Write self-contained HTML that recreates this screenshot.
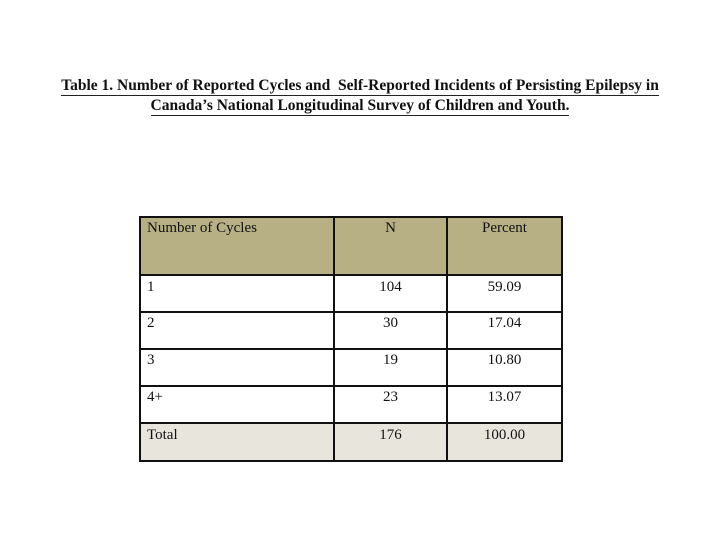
<!DOCTYPE html>
<html><head><style>
body{margin:0;width:720px;height:540px;background:#fff;position:relative;font-family:"Liberation Serif",serif;color:#111;overflow:hidden}
.t{position:absolute;left:0;width:720px;text-align:center;font-weight:bold;font-size:15.5px;white-space:nowrap}
.t span{display:inline-block;border-bottom:1.5px solid #222;line-height:18px}
.c{position:absolute;font-size:15px;line-height:16px}
.b{position:absolute;background:#111}
</style></head><body>
<div class="t" style="top:77px"><span>Table 1. Number of Reported Cycles and &nbsp;Self-Reported Incidents of Persisting Epilepsy in</span></div>
<div class="t" style="top:97px"><span>Canada’s National Longitudinal Survey of Children and Youth.</span></div>

<div style="position:absolute;left:140px;top:217px;width:422px;height:58px;background:#b8b085"></div>
<div style="position:absolute;left:140px;top:423px;width:422px;height:38px;background:#e8e6dc"></div>
<div class="b" style="left:140px;top:216px;width:423px;height:2px"></div>
<div class="b" style="left:140px;top:274px;width:423px;height:2px"></div>
<div class="b" style="left:140px;top:311px;width:423px;height:2px"></div>
<div class="b" style="left:140px;top:348px;width:423px;height:2px"></div>
<div class="b" style="left:140px;top:385px;width:423px;height:2px"></div>
<div class="b" style="left:140px;top:422px;width:423px;height:2px"></div>
<div class="b" style="left:140px;top:460px;width:423px;height:2px"></div>
<div class="b" style="left:139px;top:216px;width:2px;height:246px"></div>
<div class="b" style="left:333px;top:216px;width:2px;height:246px"></div>
<div class="b" style="left:446px;top:216px;width:2px;height:246px"></div>
<div class="b" style="left:561px;top:216px;width:2px;height:246px"></div>

<div class="c" style="left:147px;top:220px">Number of Cycles</div>
<div class="c" style="left:335px;width:111px;text-align:center;top:220px">N</div>
<div class="c" style="left:448px;width:113px;text-align:center;top:220px">Percent</div>

<div class="c" style="left:147px;top:279px">1</div>
<div class="c" style="left:335px;width:111px;text-align:center;top:279px">104</div>
<div class="c" style="left:448px;width:113px;text-align:center;top:279px">59.09</div>

<div class="c" style="left:147px;top:315px">2</div>
<div class="c" style="left:335px;width:111px;text-align:center;top:315px">30</div>
<div class="c" style="left:448px;width:113px;text-align:center;top:315px">17.04</div>

<div class="c" style="left:147px;top:352px">3</div>
<div class="c" style="left:335px;width:111px;text-align:center;top:352px">19</div>
<div class="c" style="left:448px;width:113px;text-align:center;top:352px">10.80</div>

<div class="c" style="left:147px;top:389px">4+</div>
<div class="c" style="left:335px;width:111px;text-align:center;top:389px">23</div>
<div class="c" style="left:448px;width:113px;text-align:center;top:389px">13.07</div>

<div class="c" style="left:147px;top:427px">Total</div>
<div class="c" style="left:335px;width:111px;text-align:center;top:427px">176</div>
<div class="c" style="left:448px;width:113px;text-align:center;top:427px">100.00</div>
</body></html>
